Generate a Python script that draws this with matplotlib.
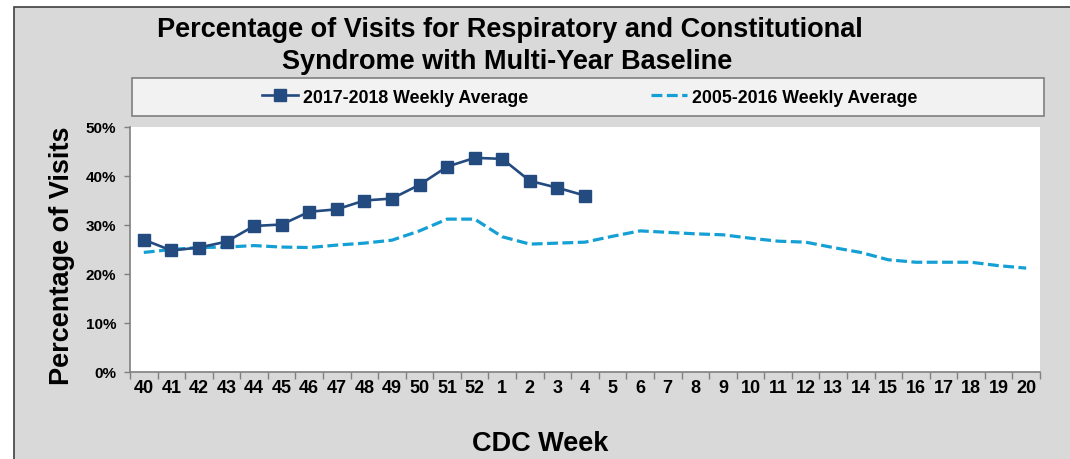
import matplotlib
matplotlib.use('Agg')
import matplotlib.pyplot as plt
from matplotlib.patches import Rectangle
import numpy as np

plt.rcParams['font.family'] = ['Liberation Sans', 'DejaVu Sans']
plt.rcParams['font.weight'] = 'bold'

# CDC weeks, season order
weeks = ['40', '41', '42', '43', '44', '45', '46', '47', '48', '49', '50', '51', '52',
         '1', '2', '3', '4', '5', '6', '7', '8', '9', '10', '11', '12', '13', '14',
         '15', '16', '17', '18', '19', '20']
# 2017-2018 weekly average (weeks 40 .. 4)
cur_season = [27.0, 24.8, 25.4, 26.6, 29.8, 30.1, 32.7, 33.2, 35.0, 35.4, 38.2,
              41.9, 43.7, 43.5, 39.0, 37.6, 36.0]
# 2005-2016 weekly average baseline
baseline = [24.4, 25.0, 25.4, 25.5, 25.8, 25.5, 25.4, 25.9, 26.3, 26.9, 28.8, 31.2,
            31.2, 27.6, 26.1, 26.3, 26.5, 27.7, 28.8, 28.5, 28.2, 28.0, 27.3, 26.7,
            26.5, 25.4, 24.4, 22.9, 22.4, 22.4, 22.4, 21.7, 21.2]
yticks = [0, 10, 20, 30, 40, 50]

navy = '#234b80'
cyan = '#14a0d4'

fig = plt.figure(figsize=(10.7, 4.6), dpi=100, facecolor='white')
# gray chart background with dark edge on top/left
fig.patches.append(Rectangle((14/1070, -0.01), 1.02, (460-8)/460 + 0.01,
                             transform=fig.transFigure, facecolor='#d9d9d9',
                             edgecolor='#404040', linewidth=1.2, zorder=-2))
# legend box
fig.patches.append(Rectangle((132/1070, (460-117)/460), 912/1070, 38/460,
                             transform=fig.transFigure, facecolor='#f2f2f2',
                             edgecolor='#7f7f7f', linewidth=1.2, zorder=-1))

ax = fig.add_axes([130/1070, (460-373)/460, 910/1070, 245/460])
ax.set_facecolor('white')

x = np.arange(len(weeks))
ax.plot(x, baseline, color=cyan, lw=2.3, linestyle=(0, (3.4, 1.4)),
        label='2005-2016 Weekly Average', zorder=2)
ax.plot(x[:len(cur_season)], cur_season, color=navy, lw=1.9, marker='s',
        markersize=8.5, label='2017-2018 Weekly Average', zorder=3)

ax.set_xlim(-0.5, len(weeks) - 0.5)
ax.set_ylim(0, 50)
ax.set_yticks(yticks)
ax.set_yticklabels([f'{v}%' for v in yticks], fontsize=11, fontweight='bold')
ax.set_xticks(np.arange(-0.5, len(weeks)), labels=[])
ax.set_xticks(x, labels=weeks, minor=True)
ax.tick_params(axis='x', which='major', length=5, color='#808080', width=1)
ax.tick_params(axis='x', which='minor', length=0, labelsize=13, pad=5)
ax.tick_params(axis='y', length=4, color='#808080', width=1, pad=6)
for lab in ax.get_xticklabels(minor=True):
    lab.set_fontweight('bold')
for s in ['top', 'right']:
    ax.spines[s].set_visible(False)
for s in ['left', 'bottom']:
    ax.spines[s].set_color('#808080')
    ax.spines[s].set_linewidth(1.2)

fig.text(510/1070, 1 - 30/460, 'Percentage of Visits for Respiratory and Constitutional',
         ha='center', va='center', fontsize=19.5, fontweight='bold')
fig.text(507/1070, 1 - 62/460, 'Syndrome with Multi-Year Baseline',
         ha='center', va='center', fontsize=19.5, fontweight='bold')
fig.text(62/1070, 1 - 256/460, 'Percentage of Visits', rotation=90,
         ha='center', va='center', fontsize=19.5, fontweight='bold')
fig.text(540/1070, 1 - 444/460, 'CDC Week', ha='center', va='center',
         fontsize=19.5, fontweight='bold')

h, l = ax.get_legend_handles_labels()
leg = fig.legend(h[::-1], l[::-1], loc='center', ncol=2, frameon=False,
                 bbox_to_anchor=(590/1070, 1 - 98/460), fontsize=12.8,
                 handlelength=2.0, columnspacing=6.9, handletextpad=0.3)
for t in leg.get_texts():
    t.set_fontweight('bold')

fig.savefig('out.png', dpi=100, facecolor='white')
